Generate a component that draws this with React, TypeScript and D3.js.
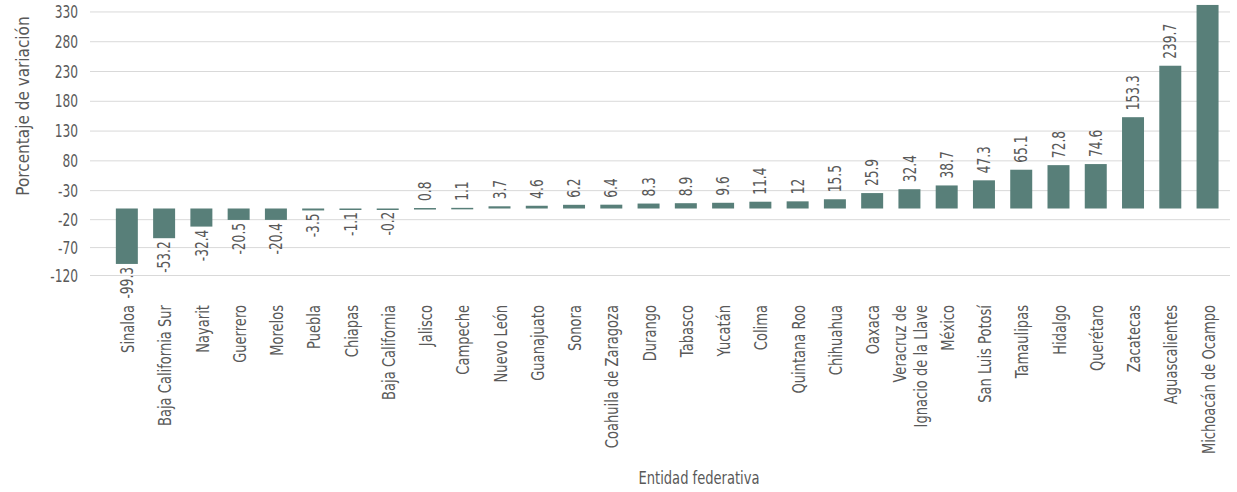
import React from "react";
import * as d3 from "d3";

const categories: string[] = [
  "Sinaloa", "Baja California Sur", "Nayarit", "Guerrero", "Morelos", "Puebla", "Chiapas",
  "Baja California", "Jalisco", "Campeche", "Nuevo León", "Guanajuato", "Sonora",
  "Coahuila de Zaragoza", "Durango", "Tabasco", "Yucatán", "Colima", "Quintana Roo",
  "Chihuahua", "Oaxaca", "Veracruz de\nIgnacio de la Llave", "México", "San Luis Potosí",
  "Tamaulipas", "Hidalgo", "Querétaro", "Zacatecas", "Aguascalientes", "Michoacán de Ocampo",
];

const values: number[] = [
  -99.3, -53.2, -32.4, -20.5, -20.4, -3.5, -1.1, -0.2, 0.8, 1.1, 3.7, 4.6, 6.2, 6.4, 8.3,
  8.9, 9.6, 11.4, 12, 15.5, 25.9, 32.4, 38.7, 47.3, 65.1, 72.8, 74.6, 153.3, 239.7, 342,
];

const valueLabels: string[] = [
  "-99.3", "-53.2", "-32.4", "-20.5", "-20.4", "-3.5", "-1.1", "-0.2", "0.8", "1.1", "3.7",
  "4.6", "6.2", "6.4", "8.3", "8.9", "9.6", "11.4", "12", "15.5", "25.9", "32.4", "38.7",
  "47.3", "65.1", "72.8", "74.6", "153.3", "239.7", "342",
];

const tickValues: number[] = [330, 280, 230, 180, 130, 80, 30, -20, -70, -120];
const tickLabels: string[] = ["330", "280", "230", "180", "130", "80", "-30", "-20", "-70", "-120"];

const yTitle = "Porcentaje de variación";
const xTitle = "Entidad federativa";

const W = 1237;
const H = 492;
const FONT = "'DejaVu Sans', sans-serif";
const TEXT = "#595959";
const BAR = "#587f79";
const GRID = "#d9d9d9";
const FS = 17;
const NUM_SX = 0.72;
const CAT_SX = 0.77;

export default function App() {
  const x = d3.scaleBand<string>().domain(categories).range([108.4, 1226]).paddingInner(0.41).paddingOuter(0.2);
  const y = d3.scaleLinear().domain([-120, 0, 342]).range([275.5, 208.5, 4.8]);
  const y0 = y(0);
  const gridX0 = 90;
  const gridX1 = 1230;
  const labelY = 305;

  return (
    <svg width={W} height={H} style={{ position: "absolute", left: 0, top: 0, background: "#fff" }} fontFamily={FONT}>
      <defs>
        <clipPath id="plot">
          <rect x={gridX0} y={y(342)} width={gridX1 - gridX0} height={y(-120) - y(342) + 1} />
        </clipPath>
      </defs>
      {tickValues.map((t, i) => (
        <g key={"t" + i}>
          <line x1={gridX0} x2={gridX1} y1={y(t)} y2={y(t)} stroke={GRID} strokeWidth={1} />
          <text
            transform={`translate(78,${y(t)}) scale(${NUM_SX},1)`}
            dy="0.36em"
            textAnchor="end"
            fontSize={FS}
            fill={TEXT}
          >
            {tickLabels[i]}
          </text>
        </g>
      ))}
      <g clipPath="url(#plot)">
        {values.map((v, i) => (
          <rect
            key={"b" + i}
            x={x(categories[i])!}
            width={x.bandwidth()}
            y={Math.min(y(v), y0)}
            height={Math.max(Math.abs(y(v) - y0), 1.5)}
            fill={BAR}
          />
        ))}
      </g>
      {values.map((v, i) => {
        const cx = x(categories[i])! + x.bandwidth() / 2;
        const ly = v >= 0 ? y(v) - 7 : y(v) + 3;
        if (v >= 0 && ly - 30 < 0) return null;
        return (
          <text
            key={"v" + i}
            transform={`translate(${cx},${ly}) rotate(-90) scale(${NUM_SX},1)`}
            dy="0.36em"
            textAnchor={v >= 0 ? "start" : "end"}
            fontSize={FS}
            fill={TEXT}
          >
            {valueLabels[i]}
          </text>
        );
      })}
      {categories.map((c, i) => {
        const cx = x(c)! + x.bandwidth() / 2 + 1;
        const lines = c.split("\n");
        const lh = 21;
        return (
          <text
            key={"c" + i}
            transform={`translate(${cx},${labelY}) rotate(-90) scale(${CAT_SX},1)`}
            textAnchor="end"
            fontSize={FS}
            fill={TEXT}
          >
            {lines.map((ln, j) => (
              <tspan key={j} x={0} y={(j - (lines.length - 1) / 2) * lh} dy="0.36em">
                {ln}
              </tspan>
            ))}
          </text>
        );
      })}
      <text transform={`translate(23,106) rotate(-90) scale(0.9,1)`} textAnchor="middle" dy="0.36em" fontSize={FS} fill={TEXT}>
        {yTitle}
      </text>
      <text transform={`translate(699,484) scale(${CAT_SX},1)`} textAnchor="middle" fontSize={FS} fill={TEXT}>
        {xTitle}
      </text>
    </svg>
  );
}
